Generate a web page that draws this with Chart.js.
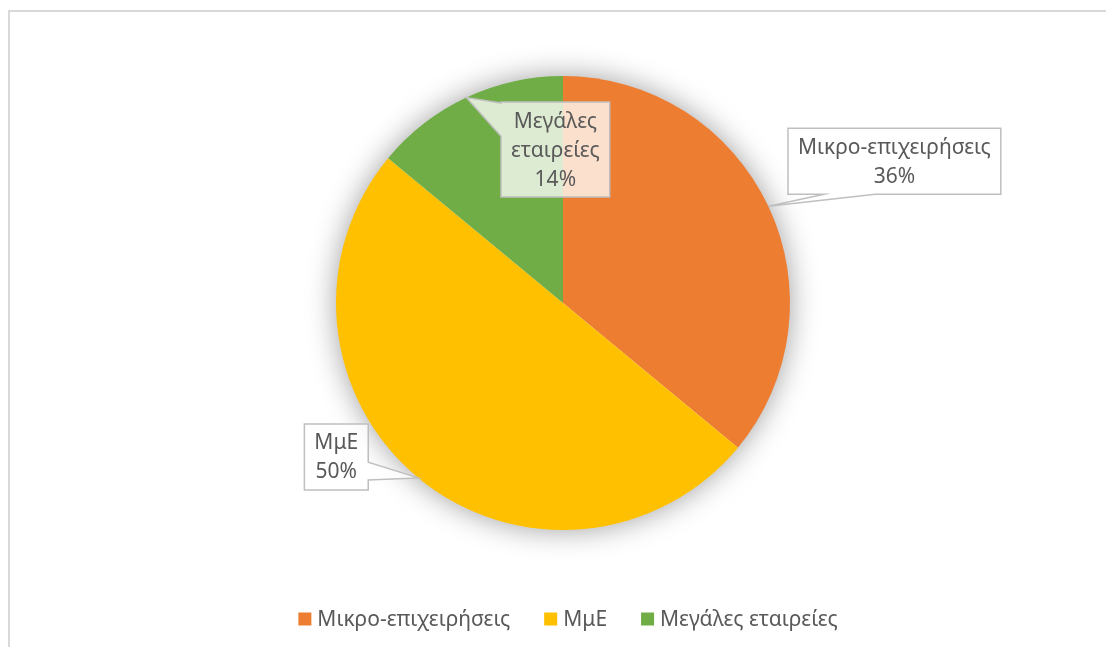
<!DOCTYPE html>
<html>
<head>
<meta charset="utf-8">
<script src="https://cdn.jsdelivr.net/npm/chart.js@4"></script>
<style>
  html, body { margin: 0; padding: 0; background: #fff; overflow: hidden; }
  #wrap { position: relative; width: 1106px; height: 647px; }
  #frame {
    position: absolute; left: 8px; top: 10px; right: -10px; bottom: -10px;
    border-top: 2px solid #d9d9d9; border-left: 2px solid #d9d9d9;
  }
  canvas { position: absolute; left: 0; top: 0; }
</style>
</head>
<body>
<div id="wrap">
  <div id="frame"></div>
  <canvas id="chart" width="1106" height="647"></canvas>
</div>
<script>
// Chart data
const categories = ['Μικρο-επιχειρήσεις', 'ΜμΕ', 'Μεγάλες εταιρείες'];
const shares = [36, 50, 14];
const sliceColors = ['#ED7D31', '#FFC000', '#70AD47'];

const FONT = '21px "Noto Sans", "Open Sans", sans-serif';
const TEXT_COLOR = '#595959';

// callout boxes: centre offset from the slice anchor, side + span of the pointer
const callouts = [
  { dx: 126, dy: -45, side: 'bottom', t0: 0.17, t1: 0.41, wrap: false },
  { dx: -82, dy: -21, side: 'right', t0: 0.58, t1: 0.85, wrap: false },
  { dx: 89, dy: 52, side: 'left', t0: 0.01, t1: 0.36, wrap: true }
];

const pieShadow = {
  id: 'pieShadow',
  beforeDatasetsDraw(chart) {
    const arc = chart.getDatasetMeta(0).data[0];
    if (!arc) return;
    const { x, y, outerRadius } = arc.getProps(['x', 'y', 'outerRadius'], true);
    const ctx = chart.ctx;
    ctx.save();
    ctx.shadowColor = 'rgba(0,0,0,0.4)';
    ctx.shadowBlur = 30;
    ctx.fillStyle = '#fff';
    ctx.beginPath();
    ctx.arc(x, y, outerRadius - 1, 0, Math.PI * 2);
    ctx.fill();
    ctx.restore();
  }
};

const calloutLabels = {
  id: 'calloutLabels',
  afterDatasetsDraw(chart) {
    const ctx = chart.ctx;
    const meta = chart.getDatasetMeta(0);
    const total = shares.reduce((a, b) => a + b, 0);
    const padX = 10, padY = 4, lineH = 29;
    ctx.save();
    ctx.font = FONT;
    meta.data.forEach((arc, i) => {
      const p = arc.getProps(['x', 'y', 'startAngle', 'endAngle', 'outerRadius'], true);
      const mid = (p.startAngle + p.endAngle) / 2;
      const ax = p.x + Math.cos(mid) * p.outerRadius;
      const ay = p.y + Math.sin(mid) * p.outerRadius;
      const c = callouts[i];
      const pct = Math.round(shares[i] / total * 100) + '%';
      const lines = (c.wrap ? categories[i].split(' ') : [categories[i]]).concat(pct);
      const w = Math.max(...lines.map(t => ctx.measureText(t).width)) + padX * 2;
      const h = lines.length * lineH + padY * 2;
      const bx = ax + c.dx - w / 2, by = ay + c.dy - h / 2;

      // box outline with the pointer wedge
      ctx.beginPath();
      ctx.moveTo(bx, by);
      if (c.side === 'top') { ctx.lineTo(bx + w * c.t0, by); ctx.lineTo(ax, ay); ctx.lineTo(bx + w * c.t1, by); }
      ctx.lineTo(bx + w, by);
      if (c.side === 'right') { ctx.lineTo(bx + w, by + h * c.t0); ctx.lineTo(ax, ay); ctx.lineTo(bx + w, by + h * c.t1); }
      ctx.lineTo(bx + w, by + h);
      if (c.side === 'bottom') { ctx.lineTo(bx + w * c.t1, by + h); ctx.lineTo(ax, ay); ctx.lineTo(bx + w * c.t0, by + h); }
      ctx.lineTo(bx, by + h);
      if (c.side === 'left') { ctx.lineTo(bx, by + h * c.t1); ctx.lineTo(ax, ay); ctx.lineTo(bx, by + h * c.t0); }
      ctx.closePath();
      ctx.fillStyle = 'rgba(255,255,255,0.76)';
      ctx.fill();
      ctx.strokeStyle = '#bfbfbf';
      ctx.lineWidth = 1.5;
      ctx.stroke();

      ctx.fillStyle = TEXT_COLOR;
      ctx.textAlign = 'center';
      ctx.textBaseline = 'middle';
      lines.forEach((t, k) => {
        ctx.fillText(t, bx + w / 2, by + padY + lineH * (k + 0.5) + 1);
      });
    });
    ctx.restore();
  }
};

const bottomLegend = {
  id: 'bottomLegend',
  afterDraw(chart) {
    const ctx = chart.ctx;
    const box = 13, gap = 6, itemGap = 34, cx = 568, cy = 619;
    ctx.save();
    ctx.font = FONT;
    const widths = categories.map(t => ctx.measureText(t).width);
    const totalW = widths.reduce((a, w) => a + box + gap + w, 0) + itemGap * (categories.length - 1);
    let x = cx - totalW / 2;
    ctx.textBaseline = 'middle';
    ctx.textAlign = 'left';
    categories.forEach((t, i) => {
      ctx.fillStyle = sliceColors[i];
      ctx.fillRect(x, cy - box / 2, box, box);
      ctx.fillStyle = TEXT_COLOR;
      ctx.fillText(t, x + box + gap, cy + 1);
      x += box + gap + widths[i] + itemGap;
    });
    ctx.restore();
  }
};

new Chart(document.getElementById('chart'), {
  type: 'pie',
  data: {
    labels: categories,
    datasets: [{
      data: shares,
      backgroundColor: sliceColors,
      borderWidth: 0
    }]
  },
  options: {
    responsive: false,
    animation: false,
    layout: { padding: { left: 336, right: 316, top: 76, bottom: 117 } },
    plugins: {
      legend: { display: false },
      tooltip: { enabled: false }
    }
  },
  plugins: [pieShadow, calloutLabels, bottomLegend]
});
</script>
</body>
</html>
